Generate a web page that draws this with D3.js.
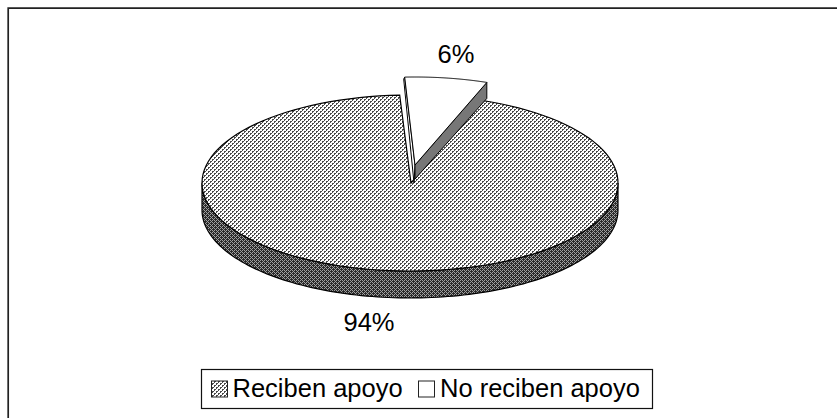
<!DOCTYPE html>
<html><head><meta charset="utf-8">
<script src="https://cdnjs.cloudflare.com/ajax/libs/d3/7.8.5/d3.min.js"></script>
<style>html,body{margin:0;padding:0;background:#fff}svg{display:block}text{font-family:"Liberation Sans",Arial,sans-serif;fill:#000}</style>
</head><body><svg id="c" width="837" height="418"></svg>
<script>
const categories = ["Reciben apoyo", "No reciben apoyo"];
const values = [93.6, 6.4];
const shown = ["94%", "6%"];

const svg = d3.select("#c");
const defs = svg.append("defs");
function hatch(id, bg, fg, cells){
  const p = defs.append("pattern").attr("id", id).attr("patternUnits","userSpaceOnUse")
    .attr("width",4).attr("height",4);
  p.append("rect").attr("width",4).attr("height",4).attr("fill",bg);
  cells.forEach(c=>p.append("rect").attr("x",c[0]).attr("y",c[1]).attr("width",1).attr("height",1).attr("fill",fg));
}
hatch("light","#ffffff","#4a4a4a",[[0,0],[1,3],[2,2],[3,1],[0,3],[2,1]]);
hatch("dark","#2a2a2a","#a0a0a0",[[0,0],[1,3],[2,2],[3,1],[0,2],[2,0]]);

// frame: left and top only, open on the right and at the bottom
svg.append("path").attr("d","M8.2,418V8.2H837").attr("fill","none").attr("stroke","#222").attr("stroke-width",1.7);

const cx=410, cy=183, rx=208, ry=88, depth=27;
const sx=d3.scaleLinear().domain([-1,1]).range([cx-rx,cx+rx]);
const sy=d3.scaleLinear().domain([-1,1]).range([cy-ry,cy+ry]);
const rad=d=>d*Math.PI/180;
const pie=d3.pie().sort(null).startAngle(rad(20.2)).endAngle(rad(380.2));
const arcs=pie(values);
const line=d3.line();
function pts(a0,a1,dx,dy){
  return d3.range(0,121).map(i=>{const a=a0+(a1-a0)*i/120;
    return [sx(Math.sin(a))+dx, sy(-Math.cos(a))+dy];});
}
const big=arcs[0], small=arcs[1];
const front=pts(rad(90),rad(270),0,0);
const wall=front.concat(front.slice().reverse().map(p=>[p[0],p[1]+depth]));
svg.append("path").attr("d",line(wall)+"Z").attr("fill","url(#dark)").attr("stroke","#000").attr("stroke-width",1.2);
const topPts=[[cx+1,cy]].concat(pts(big.startAngle,big.endAngle,0,0));
svg.append("path").attr("d",line(topPts)+"Z").attr("fill","url(#light)").attr("stroke","#000").attr("stroke-width",1.2);

// exploded small slice
const ox=5, oy=-18, sliceWall=14, outerWall=16;
const a0=small.startAngle,a1=small.endAngle;
const tip=[cx+ox,cy+oy];
const e0=pts(a0,a0,ox,oy)[0], e1=pts(a1,a1,ox,oy)[0];
svg.append("path").attr("d",line([tip,[tip[0]-1,tip[1]+sliceWall+4],[e0[0]-1,e0[1]+2],e0])+"Z").attr("fill","#fff").attr("stroke","#000");
svg.append("path").attr("d",line([tip,[tip[0],tip[1]+sliceWall],[e1[0],e1[1]+outerWall],e1])+"Z").attr("fill","#777").attr("stroke","#000");
svg.append("path").attr("d",line([tip].concat(pts(a0,a1,ox,oy)))+"Z").attr("fill","#fff").attr("stroke","#000");

// labels
svg.append("text").attr("x",369).attr("y",331).attr("font-size",25.5).attr("text-anchor","middle").text(shown[0]);
svg.append("text").attr("x",456).attr("y",63).attr("font-size",25.5).attr("text-anchor","middle").text(shown[1]);

// legend
svg.append("rect").attr("x",201.5).attr("y",369.5).attr("width",451).attr("height",39).attr("fill","#fff").attr("stroke","#111").attr("stroke-width",1.2);
const lx=d3.scaleOrdinal().domain(categories).range([211,418]);
categories.forEach((c,i)=>{
  svg.append("rect").attr("x",lx(c)+.5).attr("y",381).attr("width",16).attr("height",16)
    .attr("fill",i==0?"url(#light)":"#fff").attr("stroke","#222");
  svg.append("text").attr("x",lx(c)+(i==0?21.5:22)).attr("y",397).attr("font-size",25.5).text(c);
});
</script></body></html>
